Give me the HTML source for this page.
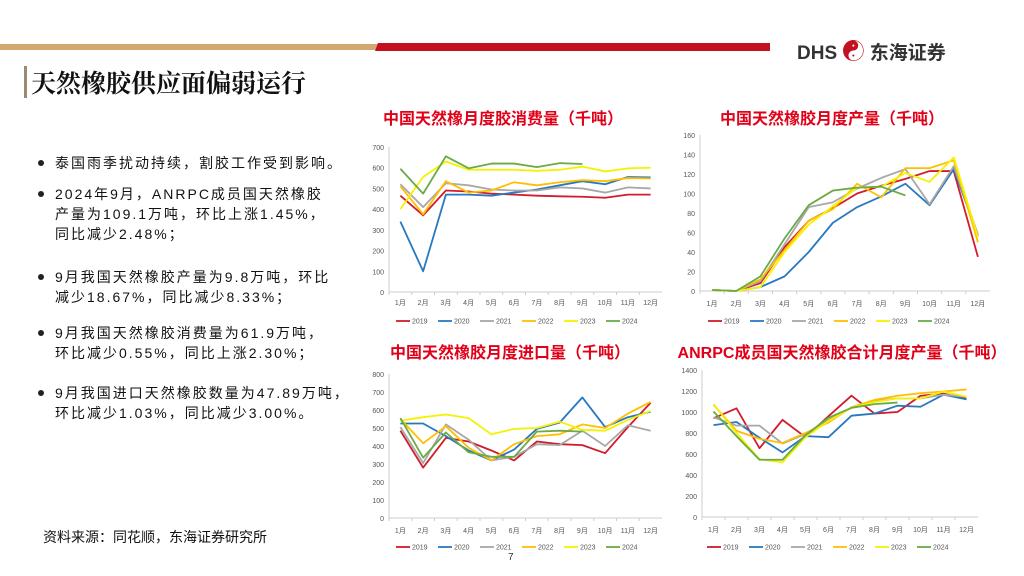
<!DOCTYPE html>
<html><head><meta charset="utf-8">
<style>
body{margin:0;width:1024px;height:576px;overflow:hidden;background:#fff;font-family:"Liberation Sans","Noto Sans CJK SC",sans-serif;position:relative}
.abs{position:absolute}
.ct{position:absolute;color:#e00018;font-weight:bold;font-size:16px;white-space:nowrap;transform:translateX(-50%)}
.bl{position:absolute;left:55px;font-size:14px;line-height:20px;color:#111;letter-spacing:2px}
.bl:before{content:"";position:absolute;left:-17px;top:7px;width:6px;height:6px;border-radius:50%;background:#222}
</style></head><body>
<div class="abs" style="left:0;top:44px;width:380px;height:6px;background:#d2a870"></div>
<div class="abs" style="left:375px;top:43px;width:395px;height:8px;background:#c3111f;clip-path:polygon(3px 0,100% 0,100% 100%,0 100%)"></div>
<div class="abs" style="left:797px;top:34px;font-size:19px;font-weight:bold;color:#333;white-space:nowrap">DHS <span style="color:#c3111f;font-size:22px">☯</span> <span style="font-family:'Noto Sans CJK SC',sans-serif">东海证券</span></div>
<div class="abs" style="left:24px;top:66px;width:3px;height:32px;background:#9a8a70"></div>
<div class="abs" style="left:31px;top:64px;font-size:25px;font-weight:bold;font-family:'Noto Serif CJK SC',serif;color:#111">天然橡胶供应面偏弱运行</div>

<div class="ct" style="left:503px;top:105px">中国天然橡月度胶消费量（千吨）</div>
<div class="ct" style="left:832px;top:105px">中国天然橡胶月度产量（千吨）</div>
<div class="ct" style="left:510px;top:339px">中国天然橡胶月度进口量（千吨）</div>
<div class="ct" style="left:842px;top:339px">ANRPC成员国天然橡胶合计月度产量（千吨）</div>

<div class="bl" style="top:153px">泰国雨季扰动持续，割胶工作受到影响。</div>
<div class="bl" style="top:184px">2024年9月，ANRPC成员国天然橡胶<br>产量为109.1万吨，环比上涨1.45%，<br>同比减少2.48%；</div>
<div class="bl" style="top:267px">9月我国天然橡胶产量为9.8万吨，环比<br>减少18.67%，同比减少8.33%；</div>
<div class="bl" style="top:323px">9月我国天然橡胶消费量为61.9万吨，<br>环比减少0.55%，同比上涨2.30%；</div>
<div class="bl" style="top:383px">9月我国进口天然橡胶数量为47.89万吨，<br>环比减少1.03%，同比减少3.00%。</div>
<div class="abs" style="left:43px;top:527px;font-size:14px;color:#111">资料来源：同花顺，东海证券研究所</div>
<div class="abs" style="left:508px;top:552px;font-size:10px;color:#333">7</div>

<svg id="svg" width="1024" height="576" style="position:absolute;left:0;top:0"></svg>
<script>
const months=["1月","2月","3月","4月","5月","6月","7月","8月","9月","10月","11月","12月"];
const years=["2019","2020","2021","2022","2023","2024"];
const colors=["#d01c2c","#2878c0","#a8a8a8","#ffbf00","#f5f200","#6aab45"];
const consTicks=[0,100,200,300,400,500,600,700];
const cons2019=[465,370,490,485,475,470,465,462,460,455,470,470];
const cons2020=[340,100,470,470,465,480,495,515,535,520,555,553];
const cons2021=[520,410,525,515,495,490,490,505,500,480,505,500];
const cons2022=[510,375,535,480,490,530,515,530,540,535,550,548];
const cons2023=[400,555,630,590,590,590,585,590,605,582,597,600];
const cons2024=[595,475,655,597,620,620,603,622,618];
const prodTicks=[0,20,40,60,80,100,120,140,160];
const prod2019=[1,0,8,45,72,85,100,108,115,123,123,35];
const prod2020=[1,0,4,15,40,70,86,97,110,88,125,57];
const prod2021=[1,0,10,48,86,91,105,116,125,89,128,58];
const prod2022=[1,0,12,42,72,84,110,96,126,126,134,50];
const prod2023=[1,0,4,40,68,87,106,107,121,112,137,55];
const prod2024=[1,0,15,54,88,103,106,107,98];
const impTicks=[0,100,200,300,400,500,600,700,800];
const imp2019=[485,280,445,425,375,320,425,410,405,360,505,640];
const imp2020=[525,525,455,375,320,380,495,530,670,505,560,590];
const imp2021=[505,305,520,435,320,340,410,405,485,400,515,485];
const imp2022=[550,415,510,390,320,410,455,465,520,500,580,645];
const imp2023=[540,560,575,555,465,495,500,535,490,485,545,595];
const imp2024=[555,335,475,365,340,340,480,485,480];
const anTicks=[0,200,400,600,800,1000,1200,1400];
const an2019=[940,1035,655,925,760,960,1155,985,1000,1155,1175,1125];
const an2020=[875,905,755,615,770,760,965,985,1060,1050,1165,1120];
const an2021=[950,870,870,700,790,925,1040,1105,1130,1130,1165,1145];
const an2022=[1070,820,745,705,800,900,1045,1115,1155,1180,1195,1215];
const an2023=[1075,800,550,520,760,915,1040,1095,1130,1130,1195,1145];
const an2024=[1005,770,545,545,780,945,1040,1075,1090];

const svg=document.getElementById('svg');
const NS="http://www.w3.org/2000/svg";
function mk(t,a){const e=document.createElementNS(NS,t);for(const k in a)e.setAttribute(k,a[k]);svg.appendChild(e);return e;}
function chart(id,L,R,T,B,ticks,series,labY,legY,legX){
  const max=ticks[ticks.length-1];
  const y=v=>B-(v/max)*(B-T);
  const bw=(R-L)/12;
  const x=i=>L+bw*(i+0.5);
  ticks.forEach(t=>{const tx=mk('text',{x:L-5,y:y(t)+3,'text-anchor':'end','font-size':7,fill:'#555'});tx.textContent=t;
    
    });
  const ax=mk('line',{x1:L,y1:T,x2:L,y2:B,stroke:'#ccc','stroke-width':1});
  
  
  const bx=mk('line',{x1:L,y1:B,x2:R,y2:B,stroke:'#ccc','stroke-width':1});
  
  
  months.forEach((m,i)=>{mk('line',{x1:L+bw*i,y1:B,x2:L+bw*i,y2:B+3,stroke:'#ccc'});
    const tx=mk('text',{x:x(i),y:labY,'text-anchor':'middle','font-size':7,fill:'#555'});tx.textContent=m;
    
    });
  series.forEach((s,k)=>{
    const p=mk('polyline',{points:s.map((v,i)=>x(i)+','+y(v)).join(' '),fill:'none',stroke:colors[k],'stroke-width':1.8,'stroke-linejoin':'round'});
    
    
    const lx=legX+k*42;
    const ll=mk('line',{x1:lx,y1:legY,x2:lx+14,y2:legY,stroke:colors[k],'stroke-width':1.8});
    
    
    const lt=mk('text',{x:lx+16,y:legY+2.5,'font-size':7,fill:'#555'});lt.textContent=years[k];
    
    
  });
}
chart('consumption',389,662,147,292,consTicks,[cons2019,cons2020,cons2021,cons2022,cons2023,cons2024],305,321,396);
chart('production',700,990,135,291,prodTicks,[prod2019,prod2020,prod2021,prod2022,prod2023,prod2024],306,321,708);
chart('imports',389,662,374,518,impTicks,[imp2019,imp2020,imp2021,imp2022,imp2023,imp2024],533,547,396);
chart('anrpc',702,978,370,517,anTicks,[an2019,an2020,an2021,an2022,an2023,an2024],532,547,707);
</script>
</body></html>
